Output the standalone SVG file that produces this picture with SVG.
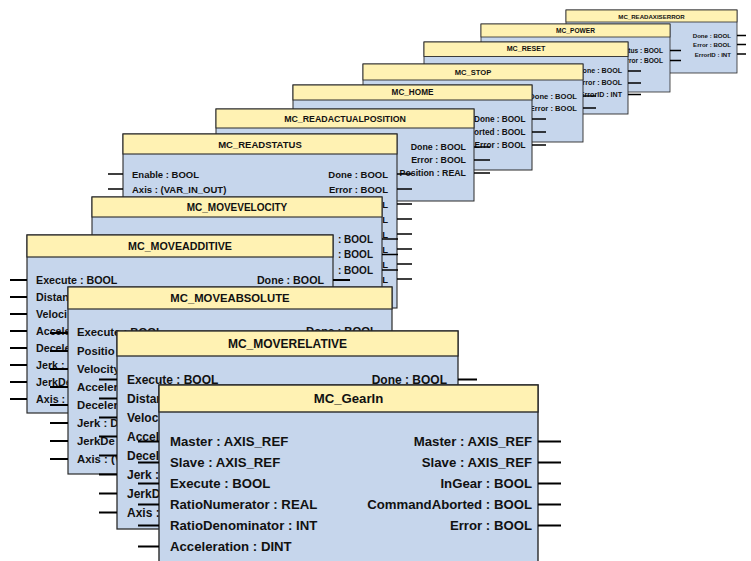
<svg xmlns="http://www.w3.org/2000/svg" width="751" height="561" viewBox="0 0 751 561">
<style>
.hd{fill:#fff2b3;stroke:#2a2a2a}
.bd{fill:#c6d6ec;stroke:#2a2a2a}
.pin{stroke:#000;fill:none}
text{font-family:"Liberation Sans",Arial,sans-serif;font-weight:bold;fill:#111;dominant-baseline:central}
.t{text-anchor:middle}
.r{text-anchor:end}
</style>
<rect width="751" height="561" fill="#fff"/>
<g id="mc-readaxiserror" font-size="6.1" stroke-width="0.8">
<rect class="bd" x="566" y="10" width="171" height="63"/>
<rect class="hd" x="566" y="10" width="171" height="12"/>
<text class="t" x="651.5" y="16">MC_READAXISERROR</text>
<text class="r" x="731" y="35.5">Done : BOOL</text>
<text class="r" x="731" y="44.5">Error : BOOL</text>
<text class="r" x="731" y="54">ErrorID : INT</text>
<path class="pin" stroke-width="1.4" d="M737 35.5H746M737 44.5H746M737 54H746"/>
</g>
<g id="mc-power" font-size="6.6" stroke-width="0.8">
<rect class="bd" x="481" y="24" width="189" height="68"/>
<rect class="hd" x="481" y="24" width="189" height="13"/>
<text class="t" x="575.5" y="30.5">MC_POWER</text>
<text class="r" x="663" y="50.5">Status : BOOL</text>
<text class="r" x="663" y="60.5">Error : BOOL</text>
<path class="pin" stroke-width="1.4" d="M670 50.5H681M670 60.5H681"/>
</g>
<g id="mc-reset" font-size="7.1" stroke-width="0.9">
<rect class="bd" x="424" y="42" width="204" height="72"/>
<rect class="hd" x="424" y="42" width="204" height="14.5"/>
<text class="t" x="526" y="49.25">MC_RESET</text>
<text class="r" x="622" y="71">Done : BOOL</text>
<text class="r" x="622" y="83">Error : BOOL</text>
<text class="r" x="622" y="94.5">ErrorID : INT</text>
<path class="pin" stroke-width="1.5" d="M628 71H641M628 83H641M628 94.5H641"/>
</g>
<g id="mc-stop" font-size="7.6" stroke-width="0.9">
<rect class="bd" x="363" y="64" width="220" height="78"/>
<rect class="hd" x="363" y="64" width="220" height="16"/>
<text class="t" x="473" y="72">MC_STOP</text>
<text class="r" x="577" y="96">Done : BOOL</text>
<text class="r" x="577" y="108">Error : BOOL</text>
<path class="pin" stroke-width="1.5" d="M583 96H596M583 108H596"/>
</g>
<g id="mc-home" font-size="8.2" stroke-width="1">
<rect class="bd" x="293" y="85" width="239" height="85"/>
<rect class="hd" x="293" y="85" width="239" height="15"/>
<text class="t" x="412.5" y="92.5">MC_HOME</text>
<text class="r" x="525.5" y="119">Done : BOOL</text>
<text class="r" x="525.5" y="132">orted : BOOL</text>
<text class="r" x="525.5" y="145">Error : BOOL</text>
<path class="pin" stroke-width="1.6" d="M532 119H546M532 132H546M532 145H546"/>
</g>
<g id="mc-readactualposition" font-size="8.8" stroke-width="1">
<rect class="bd" x="216" y="109" width="258" height="92"/>
<rect class="hd" x="216" y="109" width="258" height="19"/>
<text class="t" x="345" y="118.5">MC_READACTUALPOSITION</text>
<text class="r" x="466" y="147">Done : BOOL</text>
<text class="r" x="466" y="160">Error : BOOL</text>
<text class="r" x="466" y="173">Position : REAL</text>
<path class="pin" stroke-width="1.6" d="M474 147H490M474 160H490M474 173H490"/>
</g>
<g id="mc-readstatus" font-size="9.5" stroke-width="1.1">
<rect class="bd" x="123" y="134" width="274" height="174"/>
<rect class="hd" x="123" y="134" width="274" height="20"/>
<text class="t" x="260" y="144">MC_READSTATUS</text>
<text x="132" y="174">Enable : BOOL</text>
<text x="132" y="189">Axis : (VAR_IN_OUT)</text>
<text class="r" x="388" y="174">Done : BOOL</text>
<text class="r" x="388" y="189">Error : BOOL</text>
<text class="r" x="388" y="204">L</text>
<text class="r" x="388" y="219">L</text>
<text class="r" x="388" y="234">L</text>
<text class="r" x="388" y="249">L</text>
<text class="r" x="388" y="264">L</text>
<text class="r" x="388" y="279">L</text>
<path class="pin" stroke-width="1.7" d="M108 174H123M108 189H123M397 174H412M397 189H412M397 204H412M397 219H412M397 234H412M397 249H412M397 264H412M397 279H412"/>
</g>
<g id="mc-movevelocity" font-size="10" stroke-width="1.1">
<rect class="bd" x="92" y="197" width="290" height="165"/>
<rect class="hd" x="92" y="197" width="290" height="20"/>
<text class="t" x="237" y="207">MC_MOVEVELOCITY</text>
<text class="r" x="373" y="239">: BOOL</text>
<text class="r" x="373" y="254.5">: BOOL</text>
<text class="r" x="373" y="270">: BOOL</text>
<path class="pin" stroke-width="1.7" d="M382 239H398M382 254.5H398M382 270H398"/>
</g>
<g id="mc-moveadditive" font-size="10.7" stroke-width="1.2">
<rect class="bd" x="27" y="235" width="306" height="178"/>
<rect class="hd" x="27" y="235" width="306" height="22"/>
<text class="t" x="180" y="246">MC_MOVEADDITIVE</text>
<text x="36" y="280">Execute : BOOL</text>
<text x="36" y="297">Distan</text>
<text x="36" y="314">Veloci</text>
<text x="36" y="331">Accele</text>
<text x="36" y="348">Decele</text>
<text x="36" y="365">Jerk :</text>
<text x="36" y="382">JerkDe</text>
<text x="36" y="399">Axis :</text>
<text class="r" x="324" y="280">Done : BOOL</text>
<path class="pin" stroke-width="1.8" d="M10 280H27M10 297H27M10 314H27M10 331H27M10 348H27M10 365H27M10 382H27M10 399H27M333 280H350"/>
</g>
<g id="mc-moveabsolute" font-size="11.3" stroke-width="1.2">
<rect class="bd" x="68" y="287" width="324" height="187"/>
<rect class="hd" x="68" y="287" width="324" height="22"/>
<text class="t" x="230" y="298">MC_MOVEABSOLUTE</text>
<text x="77" y="332">Execute : BOOL</text>
<text x="77" y="351">Positio</text>
<text x="77" y="369">Velocity</text>
<text x="77" y="387">Acceler</text>
<text x="77" y="405">Deceler</text>
<text x="77" y="423">Jerk : D</text>
<text x="77" y="441">JerkDe</text>
<text x="77" y="459">Axis : (V</text>
<text class="r" x="377" y="331">Done : BOOL</text>
<path class="pin" stroke-width="1.8" d="M50 333H68M50 351H68M50 369H68M50 387H68M50 405H68M50 423H68M50 441H68M50 459H68"/>
</g>
<g id="mc-moverelative" font-size="12" stroke-width="1.3">
<rect class="bd" x="117" y="331" width="341" height="198"/>
<rect class="hd" x="117" y="331" width="341" height="25"/>
<text class="t" x="287.5" y="343.5">MC_MOVERELATIVE</text>
<text x="127" y="379.5">Execute : BOOL</text>
<text x="127" y="398.5">Distan</text>
<text x="127" y="417.5">Veloc</text>
<text x="127" y="436.5">Accel</text>
<text x="127" y="455.5">Decel</text>
<text x="127" y="474.5">Jerk :</text>
<text x="127" y="493.5">JerkD</text>
<text x="127" y="512.5">Axis :</text>
<text class="r" x="447" y="379.5">Done : BOOL</text>
<path class="pin" stroke-width="2" d="M99 379.5H117M99 398.5H117M99 417.5H117M99 436.5H117M99 455.5H117M99 474.5H117M99 493.5H117M99 512.5H117M458 379.5H477"/>
</g>
<g id="mc-gearin" font-size="13.2" stroke-width="1.4">
<rect class="bd" x="159" y="385" width="379" height="185"/>
<rect class="hd" x="159" y="385" width="379" height="27"/>
<text class="t" x="348.5" y="398.5">MC_GearIn</text>
<text x="170" y="441.5">Master : AXIS_REF</text>
<text x="170" y="462.5">Slave : AXIS_REF</text>
<text x="170" y="483.5">Execute : BOOL</text>
<text x="170" y="504.5">RatioNumerator : REAL</text>
<text x="170" y="525.5">RatioDenominator : INT</text>
<text x="170" y="546.5">Acceleration : DINT</text>
<text class="r" x="532" y="441.5">Master : AXIS_REF</text>
<text class="r" x="532" y="462.5">Slave : AXIS_REF</text>
<text class="r" x="532" y="483.5">InGear : BOOL</text>
<text class="r" x="532" y="504.5">CommandAborted : BOOL</text>
<text class="r" x="532" y="525.5">Error : BOOL</text>
<path class="pin" stroke-width="2" d="M138 441.5H159M138 462.5H159M138 483.5H159M138 504.5H159M138 525.5H159M138 546.5H159M538 441.5H561M538 462.5H561M538 483.5H561M538 504.5H561M538 525.5H561"/>
</g>
</svg>
